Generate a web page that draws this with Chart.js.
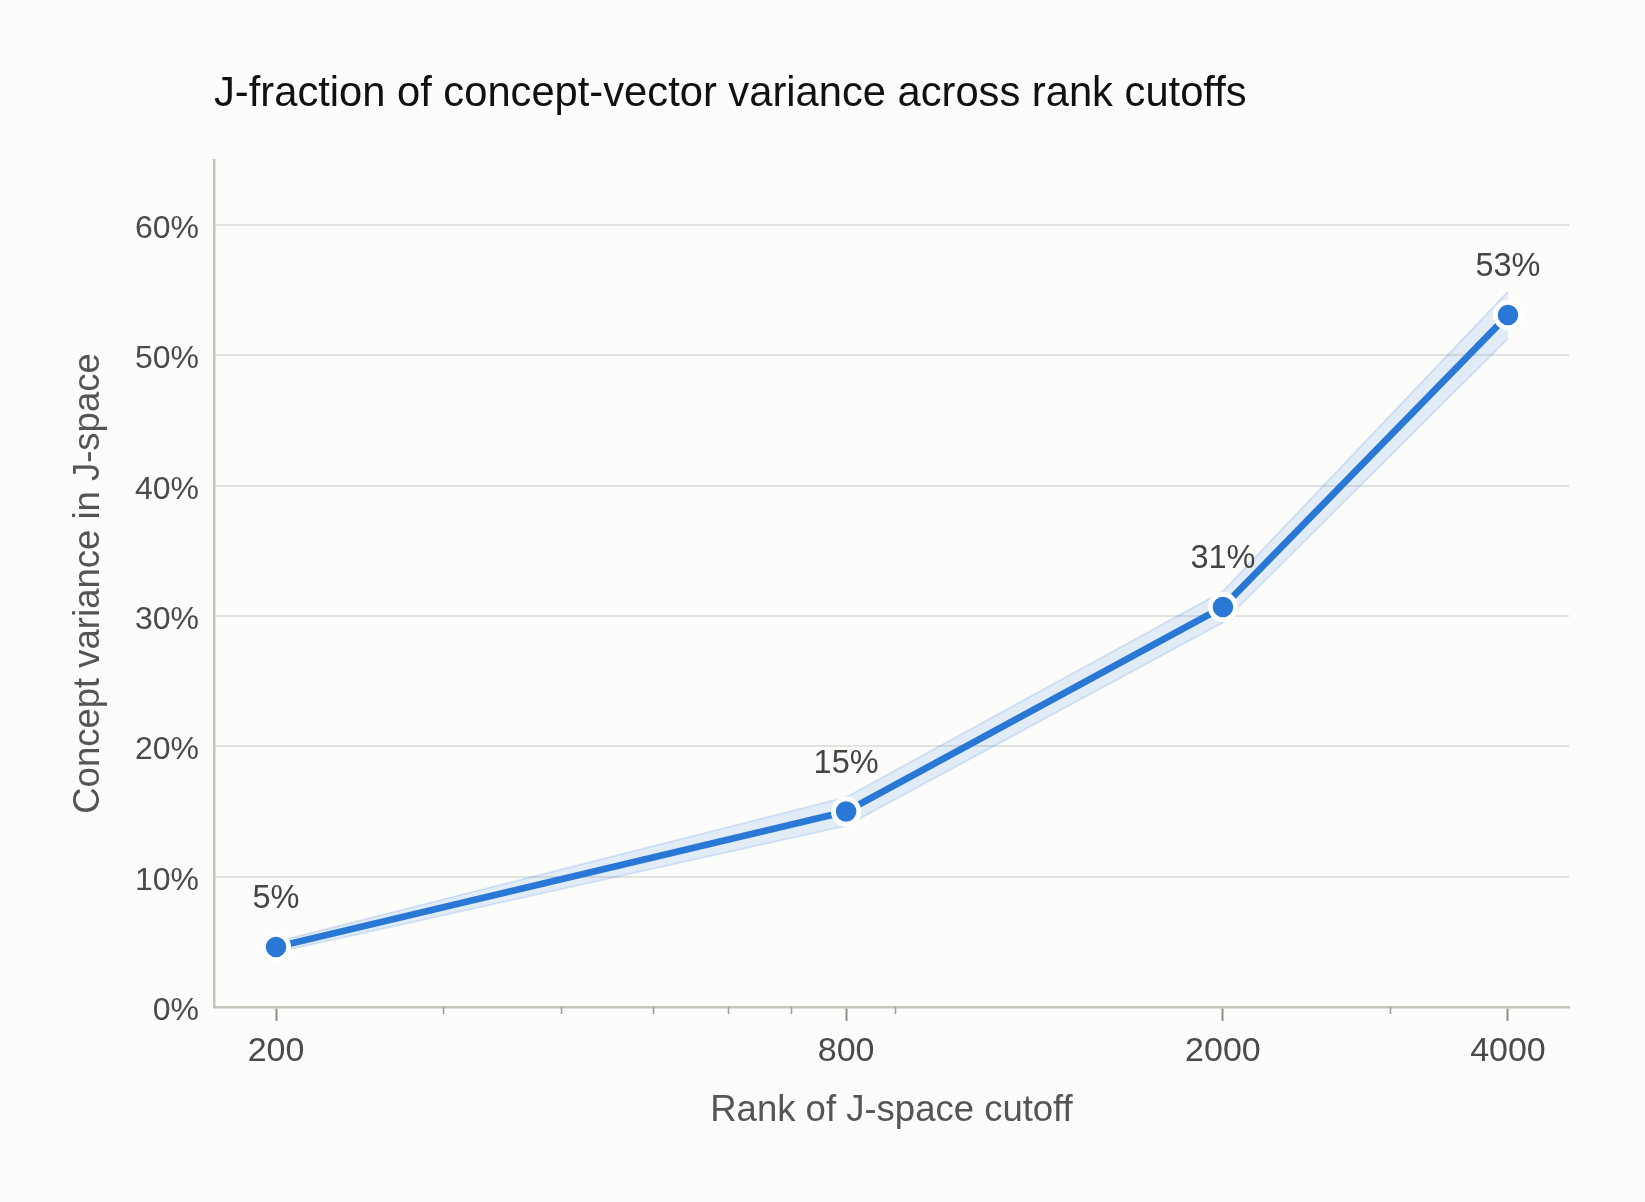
<!DOCTYPE html>
<html lang="en">
<head>
    <meta charset="UTF-8">
    <title>J-fraction of concept-vector variance</title>
    <script src="https://cdn.jsdelivr.net/npm/chart.js@4.4.1/dist/chart.umd.min.js"></script>
    <style>
        html, body { margin: 0; padding: 0; background: #fcfcfb; }
        canvas { display: block; }
    </style>
</head>
<body>
    <canvas id="chart" width="1645" height="1202"></canvas>

    <script>
        // data
        const ranks = [200, 800, 2000, 4000];
        const variancePct = [4.6, 15.0, 30.7, 53.1];
        const bandLower = [4.2, 13.9, 29.5, 51.3];
        const bandUpper = [5.0, 16.1, 31.9, 54.9];
        const majorTicks = [200, 800, 2000, 4000];
        const minorTicks = [300, 400, 500, 600, 700, 900, 3000];
        const yTicks = [0, 10, 20, 30, 40, 50, 60];

        const titleText = 'J-fraction of concept-vector variance across rank cutoffs';
        const fontFamily = '"Liberation Sans", Arial, Helvetica, sans-serif';
        const lineBlue = '#2a78d6';
        const axisGrey = '#c4c4ba';

        // title, left aligned to the plot area
        const titlePlugin = {
            id: 'leftTitle',
            afterDraw(chart) {
                const { ctx, chartArea } = chart;
                ctx.save();
                ctx.font = `41.7px ${fontFamily}`;
                ctx.fillStyle = '#111111';
                ctx.textAlign = 'left';
                ctx.textBaseline = 'alphabetic';
                ctx.fillText(titleText, chartArea.left, chartArea.top - 54);
                ctx.restore();
            }
        };

        // short unlabelled ticks on the log axis
        const minorTickPlugin = {
            id: 'minorTicks',
            afterDraw(chart) {
                const { ctx } = chart;
                const xs = chart.scales.x;
                ctx.save();
                ctx.strokeStyle = '#9c9c9c';
                ctx.lineWidth = 1.5;
                minorTicks.forEach(v => {
                    const px = Math.round(xs.getPixelForValue(v)) + 0.5;
                    ctx.beginPath();
                    ctx.moveTo(px, xs.top);
                    ctx.lineTo(px, xs.top + 7);
                    ctx.stroke();
                });
                ctx.restore();
            }
        };

        // value labels above the points
        const pointLabelPlugin = {
            id: 'pointLabels',
            afterDatasetsDraw(chart) {
                const { ctx } = chart;
                const meta = chart.getDatasetMeta(0);
                ctx.save();
                ctx.font = `32.5px ${fontFamily}`;
                ctx.fillStyle = '#444444';
                ctx.textAlign = 'center';
                ctx.textBaseline = 'middle';
                meta.data.forEach((pt, i) => {
                    ctx.fillText(Math.round(variancePct[i]) + '%', pt.x, pt.y - 48);
                });
                ctx.restore();
            }
        };

        new Chart(document.getElementById('chart'), {
            type: 'line',
            data: {
                datasets: [
                    {
                        label: 'J-fraction',
                        data: ranks.map((r, i) => ({ x: r, y: variancePct[i] })),
                        borderColor: lineBlue,
                        borderWidth: 6.8,
                        pointRadius: 12.7,
                        pointBorderWidth: 4.8,
                        pointBackgroundColor: lineBlue,
                        pointBorderColor: '#ffffff',
                        fill: false,
                        tension: 0
                    },
                    {
                        label: 'upper',
                        data: ranks.map((r, i) => ({ x: r, y: bandUpper[i] })),
                        borderColor: 'rgba(42,120,214,0.17)',
                        borderWidth: 1.8,
                        backgroundColor: 'rgba(42,120,214,0.12)',
                        pointRadius: 0,
                        fill: '+1',
                        tension: 0
                    },
                    {
                        label: 'lower',
                        data: ranks.map((r, i) => ({ x: r, y: bandLower[i] })),
                        borderColor: 'rgba(42,120,214,0.17)',
                        borderWidth: 1.8,
                        pointRadius: 0,
                        fill: false,
                        tension: 0
                    }
                ]
            },
            options: {
                responsive: false,
                animation: false,
                devicePixelRatio: 1,
                layout: { padding: { top: 160, right: 76, bottom: 0, left: 0 } },
                plugins: {
                    legend: { display: false },
                    tooltip: { enabled: false },
                    title: { display: false }
                },
                scales: {
                    x: {
                        type: 'logarithmic',
                        min: 172,
                        max: 4640,
                        afterBuildTicks: (scale) => {
                            scale.ticks = majorTicks.map(v => ({ value: v }));
                        },
                        afterFit: (scale) => { scale.height = 195; },
                        grid: {
                            drawOnChartArea: false,
                            drawTicks: true,
                            tickLength: 14,
                            tickColor: '#8e8e8e',
                            tickWidth: 2
                        },
                        border: { display: true, color: axisGrey, width: 2.5 },
                        ticks: {
                            autoSkip: false,
                            maxRotation: 0,
                            padding: 10,
                            color: '#4a4a4a',
                            font: { family: fontFamily, size: 34 },
                            callback: (v) => String(v)
                        },
                        title: {
                            display: true,
                            text: 'Rank of J-space cutoff',
                            color: '#555555',
                            font: { family: fontFamily, size: 36.5 },
                            padding: { top: 0, bottom: 69 }
                        }
                    },
                    y: {
                        min: 0,
                        max: 65,
                        afterBuildTicks: (scale) => {
                            scale.ticks = yTicks.map(v => ({ value: v }));
                        },
                        afterFit: (scale) => { scale.width = 214; },
                        grid: {
                            drawTicks: false,
                            lineWidth: 2,
                            color: (c) => (c.tick && c.tick.value === 0) ? 'rgba(0,0,0,0)' : '#e2e2de'
                        },
                        border: { display: true, color: axisGrey, width: 2.5 },
                        ticks: {
                            padding: 15,
                            labelOffset: 4,
                            color: '#4a4a4a',
                            font: { family: fontFamily, size: 32 },
                            callback: (v) => v + '%'
                        },
                        title: {
                            display: true,
                            text: 'Concept variance in J-space',
                            color: '#555555',
                            font: { family: fontFamily, size: 36.5 },
                            padding: { top: 67, bottom: 0 }
                        }
                    }
                }
            },
            plugins: [titlePlugin, minorTickPlugin, pointLabelPlugin]
        });
    </script>
</body>
</html>
